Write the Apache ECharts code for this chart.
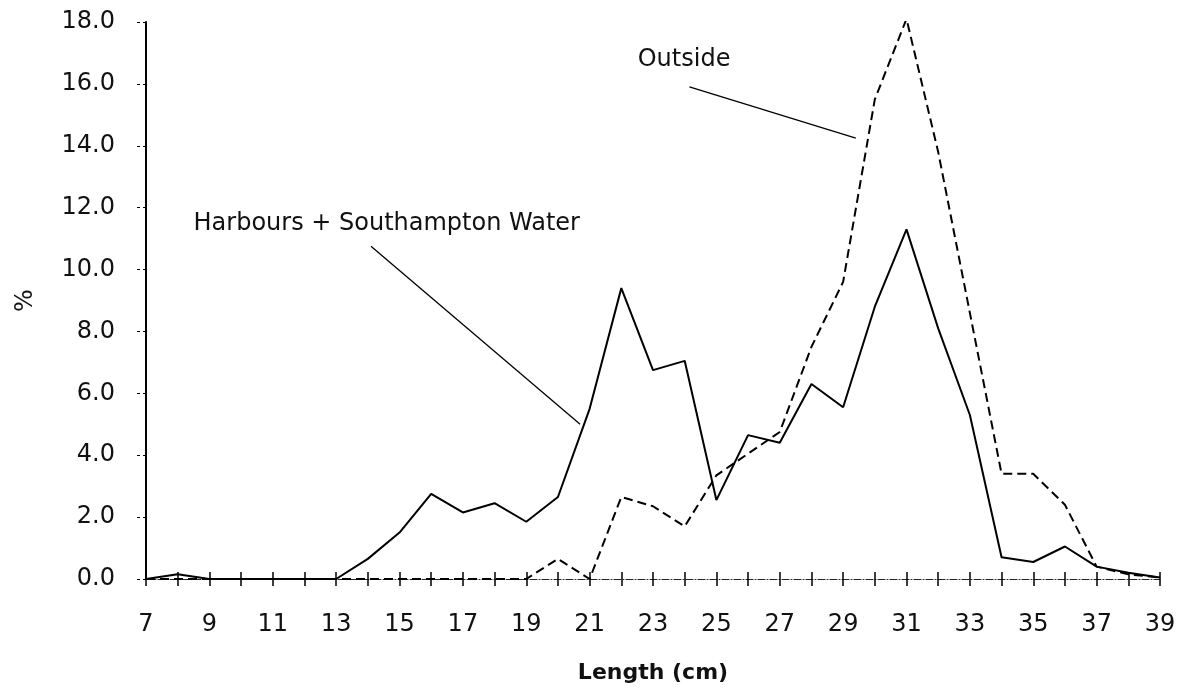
<!DOCTYPE html>
<html>
<head>
<meta charset="utf-8">
<script src="https://cdn.jsdelivr.net/npm/echarts@6/dist/echarts.min.js"></script>
<style>
html, body { margin: 0; padding: 0; background: #fff; }
#chart { width: 1195px; height: 694px; }
</style>
</head>
<body>
<div id="chart"></div>
<script>
// length classes (cm)
const lengths = [7, 8, 9, 10, 11, 12, 13, 14, 15, 16, 17, 18, 19, 20, 21, 22, 23,
  24, 25, 26, 27, 28, 29, 30, 31, 32, 33, 34, 35, 36, 37, 38, 39]

// % of catch, Harbours + Southampton Water (solid)
const harbours = [0, 0.15, 0, 0, 0, 0, 0, 0.65, 1.5, 2.75, 2.15, 2.45, 1.85, 2.65, 5.5, 9.4, 6.75,
  7.05, 2.55, 4.65, 4.4, 6.3, 5.55, 8.8, 11.3, 8.1, 5.3, 0.7, 0.55, 1.05, 0.4, 0.2, 0.05]

// % of catch, Outside (dashed)
const outside = [0, 0, 0, 0, 0, 0, 0, 0, 0, 0, 0, 0, 0, 0.65, 0, 2.65, 2.35,
  1.7, 3.35, 4.05, 4.75, 7.5, 9.6, 15.5, 18.1, 13.8, 8.6, 3.4, 3.4, 2.4, 0.4, 0.15, 0.05]

const yTicks = [0, 2, 4, 6, 8, 10, 12, 14, 16, 18]

const font = 'DejaVu Sans'

const chart = echarts.init(document.getElementById('chart'))

chart.setOption({
  backgroundColor: '#fff',
  animation: false,
  grid: { left: 146, right: 35, top: 22, bottom: 115 },
  xAxis: [
    {
      type: 'value',
      min: lengths[0],
      max: lengths[lengths.length - 1],
      interval: 1,
      position: 'bottom',
      name: 'Length (cm)',
      nameLocation: 'middle',
      nameGap: 83,
      nameTextStyle: { fontFamily: font, fontSize: 22, fontWeight: 'bold', color: '#111' },
      axisLine: { show: true, lineStyle: { color: '#222', width: 1, type: [7, 2, 1, 2] } },
      axisTick: { show: true, length: 7, lineStyle: { color: '#000', width: 1.5 } },
      axisLabel: {
        margin: 34,
        fontFamily: font,
        fontSize: 24,
        color: '#111',
        formatter: v => (v % 2 === 1 ? String(v) : '')
      },
      splitLine: { show: false }
    },
    {
      // second copy of the axis only to draw the tick halves above the line
      type: 'value',
      min: lengths[0],
      max: lengths[lengths.length - 1],
      interval: 1,
      position: 'bottom',
      offset: 0,
      axisLine: { show: false },
      axisTick: { show: true, inside: true, length: 7, lineStyle: { color: '#000', width: 1.5 } },
      axisLabel: { show: false },
      splitLine: { show: false }
    }
  ],
  yAxis: {
    type: 'value',
    min: yTicks[0],
    max: yTicks[yTicks.length - 1],
    interval: 2,
    name: '%',
    nameLocation: 'middle',
    nameRotate: 90,
    nameGap: 108,
    nameTextStyle: { fontFamily: font, fontSize: 24, color: '#111' },
    axisLine: { show: true, lineStyle: { color: '#000', width: 2 } },
    axisTick: { show: true, length: 11, lineStyle: { color: '#000', width: 1, type: [3, 3] } },
    axisLabel: {
      margin: 31,
      fontFamily: font,
      fontSize: 24,
      color: '#111',
      formatter: v => v.toFixed(1)
    },
    splitLine: { show: false }
  },
  series: [
    {
      name: 'Harbours + Southampton Water',
      type: 'line',
      symbol: 'none',
      data: lengths.map((l, i) => [l, harbours[i]]),
      lineStyle: { color: '#000', width: 2 },
      z: 3,
      markLine: {
        silent: true,
        symbol: 'none',
        label: { show: false },
        lineStyle: { color: '#000', width: 1.3, type: 'solid' },
        data: [[{ coord: [14.1, 10.75] }, { coord: [20.7, 5.0] }]]
      },
      markPoint: {
        silent: true,
        symbol: 'circle',
        symbolSize: 0,
        data: [{
          coord: [8.5, 11.47],
          label: {
            show: true,
            position: 'right',
            distance: 0,
            formatter: 'Harbours + Southampton Water',
            fontFamily: font,
            fontSize: 24,
            color: '#111'
          }
        }]
      }
    },
    {
      name: 'Outside',
      type: 'line',
      symbol: 'none',
      data: lengths.map((l, i) => [l, outside[i]]),
      lineStyle: { color: '#000', width: 2, type: [9, 5] },
      z: 2,
      markLine: {
        silent: true,
        symbol: 'none',
        label: { show: false },
        lineStyle: { color: '#000', width: 1.3, type: 'solid' },
        data: [[{ coord: [24.15, 15.9] }, { coord: [29.4, 14.25] }]]
      },
      markPoint: {
        silent: true,
        symbol: 'circle',
        symbolSize: 0,
        data: [{
          coord: [23.98, 16.77],
          label: {
            show: true,
            position: 'inside',
            formatter: 'Outside',
            fontFamily: font,
            fontSize: 24,
            color: '#111'
          }
        }]
      }
    }
  ]
})
</script>
</body>
</html>
